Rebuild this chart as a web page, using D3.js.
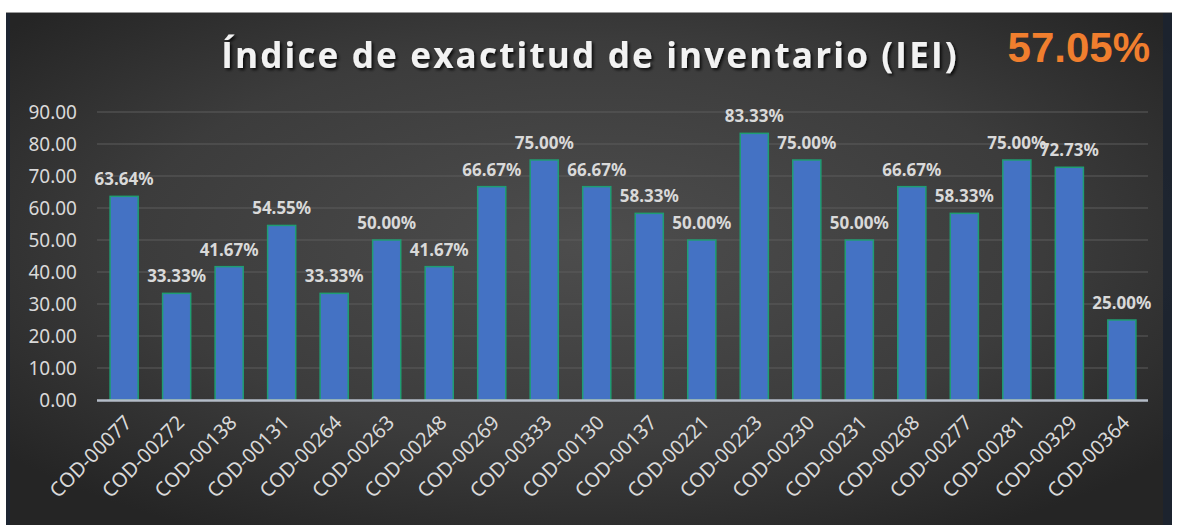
<!DOCTYPE html>
<html>
<head>
<meta charset="utf-8">
<script src="https://cdn.jsdelivr.net/npm/d3@7/dist/d3.min.js"></script>
<style>
  html, body { margin: 0; padding: 0; background: #ffffff; }
  svg { display: block; }
</style>
</head>
<body>
<svg id="chart" width="1178" height="525"></svg>
<script>
// Inventory accuracy index per item code
const codes = ["COD-00077","COD-00272","COD-00138","COD-00131","COD-00264","COD-00263","COD-00248",
  "COD-00269","COD-00333","COD-00130","COD-00137","COD-00221","COD-00223","COD-00230","COD-00231",
  "COD-00268","COD-00277","COD-00281","COD-00329","COD-00364"];
const accuracy = [63.64,33.33,41.67,54.55,33.33,50.00,41.67,66.67,75.00,66.67,58.33,50.00,83.33,75.00,
  50.00,66.67,58.33,75.00,72.73,25.00];
const yTicks = [0,10,20,30,40,50,60,70,80,90];
const titleText = "Índice de exactitud de inventario (IEI)";
const overallText = "57.05%";

const W = 1178, H = 525;
const svg = d3.select("#chart");
const defs = svg.append("defs");

// dark panel background with a soft central glow
const rg = defs.append("radialGradient").attr("id", "bg")
  .attr("cx", "50%").attr("cy", "45%").attr("r", "65%");
rg.append("stop").attr("offset", "0%").attr("stop-color", "#4d4d4d");
rg.append("stop").attr("offset", "60%").attr("stop-color", "#3c3c3c");
rg.append("stop").attr("offset", "100%").attr("stop-color", "#252525");

const shadow = defs.append("filter").attr("id", "tshadow")
  .attr("x", "-5%").attr("y", "-20%").attr("width", "110%").attr("height", "160%");
shadow.append("feDropShadow").attr("dx", 2).attr("dy", 2).attr("stdDeviation", 1.5)
  .attr("flood-color", "#000").attr("flood-opacity", 0.8);

const panel = { x: 6, y: 12, w: 1166, h: 513 };
svg.append("rect").attr("x", panel.x).attr("y", panel.y).attr("width", panel.w).attr("height", panel.h)
  .attr("fill", "url(#bg)");
svg.append("line").attr("x1", panel.x).attr("x2", panel.x + panel.w).attr("y1", panel.y + 0.5).attr("y2", panel.y + 0.5)
  .attr("stroke", "#9a9a9a").attr("stroke-width", 1);
// side edges
svg.append("rect").attr("x", panel.x).attr("y", panel.y + 1).attr("width", 4).attr("height", panel.h)
  .attr("fill", "#1e2633");
svg.append("rect").attr("x", 1163).attr("y", panel.y + 1).attr("width", 9).attr("height", panel.h)
  .attr("fill", "#1c2430").attr("opacity", 0.9);

// scales
const x = d3.scaleBand().domain(codes).range([98, 1148]).paddingInner(0.465).paddingOuter(0.23);
const y = d3.scaleLinear().domain([0, 90]).range([400, 112]);

// gridlines
svg.append("g").selectAll("line").data(yTicks.filter(d => d > 0)).join("line")
  .attr("x1", 97).attr("x2", 1148)
  .attr("y1", d => y(d)).attr("y2", d => y(d))
  .attr("stroke", "#5c5c5c").attr("stroke-width", 1);

// y axis labels
const yAxis = d3.axisLeft(y).tickValues(yTicks).tickFormat(d3.format(".2f")).tickSize(0).tickPadding(0);
const gy = svg.append("g").attr("transform", "translate(77,0)").call(yAxis);
gy.select(".domain").remove();
gy.selectAll("text").attr("fill", "#d9d9d9").style("font-family", "'Noto Sans', sans-serif")
  .style("font-size", "19px").attr("dy", "0.34em");

// bars
svg.append("g").selectAll("rect").data(accuracy).join("rect")
  .attr("x", (d, i) => x(codes[i]))
  .attr("y", d => y(d))
  .attr("width", x.bandwidth())
  .attr("height", d => y(0) - y(d))
  .attr("fill", "#4472c4")
  .attr("stroke", "#1f9d72").attr("stroke-width", 1.5);

// baseline
svg.append("line").attr("x1", 97).attr("x2", 1148).attr("y1", y(0) + 0.5).attr("y2", y(0) + 0.5)
  .attr("stroke", "#b4bcc8").attr("stroke-width", 2.5);

// value labels
svg.append("g").selectAll("text").data(accuracy).join("text")
  .attr("x", (d, i) => x(codes[i]) + x.bandwidth() / 2)
  .attr("y", d => y(d) - 11)
  .attr("text-anchor", "middle")
  .attr("fill", "#d9d9d9")
  .style("font-family", "'Noto Sans', sans-serif")
  .style("font-size", "17px").style("font-weight", "bold")
  .text(d => d3.format(".2f")(d) + "%");

// category labels
const xAxis = d3.axisBottom(x).tickSize(0).tickPadding(0);
const gx = svg.append("g").attr("transform", `translate(0,${y(0)})`).call(xAxis);
gx.select(".domain").remove();
gx.selectAll("text")
  .attr("fill", "#d9d9d9")
  .style("font-family", "'Noto Sans', sans-serif").style("font-size", "20px")
  .attr("text-anchor", "end")
  .attr("transform", "translate(4,19) rotate(-45)")
  .attr("dy", "0.35em").attr("y", 0);

// title
svg.append("text").attr("x", 590).attr("y", 68).attr("text-anchor", "middle")
  .attr("fill", "#f2f2f2").attr("filter", "url(#tshadow)")
  .style("font-family", "'Open Sans', sans-serif").style("font-size", "35px").style("font-weight", "bold")
  .style("letter-spacing", "2.2px")
  .text(titleText);

// overall index
svg.append("text").attr("x", 1150).attr("y", 62).attr("text-anchor", "end")
  .attr("fill", "#f07e2e")
  .style("font-family", "'Liberation Sans', Arial, sans-serif").style("font-size", "42px").style("font-weight", "bold")
  .text(overallText);
</script>
</body>
</html>
